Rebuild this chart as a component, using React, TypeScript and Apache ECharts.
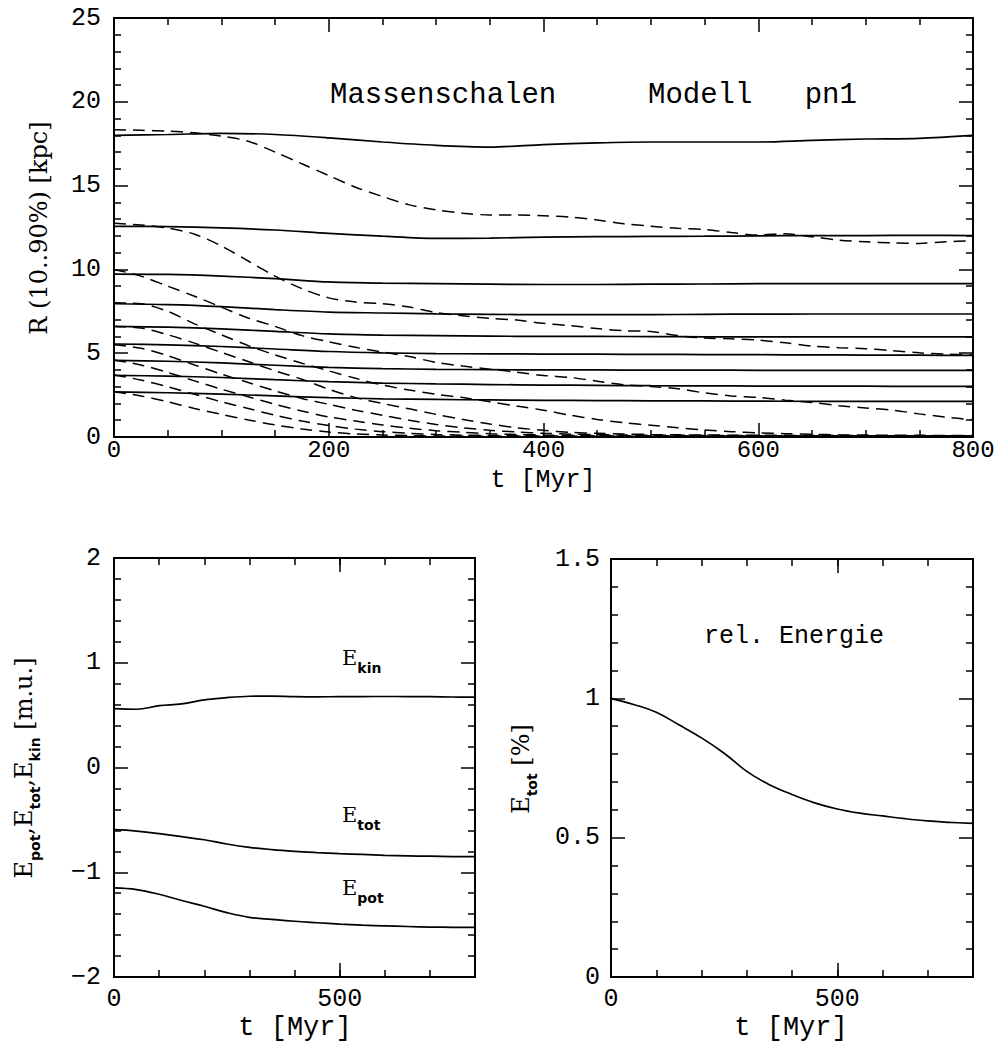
import React, { useEffect, useRef } from "react";
import * as echarts from "echarts";

// ---------- data ----------
const tSolid = [0, 50, 100, 150, 200, 250, 300, 350, 400, 450, 500, 550, 600, 650, 700, 750, 800];
const tDashed = [0, 25, 50, 75, 100, 125, 150, 175, 200, 225, 250, 275, 300, 325, 350, 375, 400, 425, 450, 475, 500, 525, 550, 575, 600, 625, 650, 675, 700, 725, 750, 775, 800];

// solid shells (10% .. 90% mass radii)
const solid90 = [18.0, 18.05, 18.12, 18.05, 17.85, 17.6, 17.4, 17.3, 17.45, 17.55, 17.6, 17.6, 17.6, 17.7, 17.78, 17.82, 18.0];
const solid80 = [12.57, 12.55, 12.48, 12.35, 12.15, 11.98, 11.85, 11.87, 11.92, 11.95, 11.97, 11.98, 12.0, 12.02, 12.02, 12.03, 12.02];
const solid70 = [9.72, 9.7, 9.6, 9.45, 9.25, 9.18, 9.15, 9.12, 9.1, 9.1, 9.12, 9.13, 9.15, 9.15, 9.15, 9.15, 9.15];
const solid60 = [7.95, 7.9, 7.78, 7.6, 7.45, 7.4, 7.35, 7.32, 7.3, 7.3, 7.3, 7.32, 7.33, 7.34, 7.34, 7.34, 7.34];
const solid50 = [6.6, 6.55, 6.45, 6.3, 6.15, 6.08, 6.05, 6.02, 6.0, 6.0, 5.99, 5.98, 5.98, 5.97, 5.97, 5.97, 5.97];
const solid40 = [5.55, 5.5, 5.4, 5.25, 5.1, 5.02, 4.98, 4.96, 4.95, 4.94, 4.93, 4.92, 4.91, 4.9, 4.89, 4.88, 4.87];
const solid30 = [4.57, 4.52, 4.42, 4.28, 4.15, 4.08, 4.04, 4.02, 4.0, 4.0, 3.99, 3.99, 3.98, 3.98, 3.97, 3.97, 3.97];
const solid20 = [3.68, 3.63, 3.55, 3.42, 3.3, 3.22, 3.17, 3.13, 3.1, 3.08, 3.06, 3.05, 3.04, 3.03, 3.03, 3.02, 3.02];
const solid10 = [2.69, 2.64, 2.56, 2.45, 2.35, 2.28, 2.24, 2.21, 2.19, 2.17, 2.16, 2.15, 2.14, 2.13, 2.13, 2.12, 2.12];

// dashed shells
const dashed90 = [18.33, 18.3, 18.25, 18.15, 17.95, 17.65, 17.0, 16.3, 15.6, 14.9, 14.35, 13.85, 13.55, 13.35, 13.25, 13.25, 13.2, 13.12, 12.95, 12.72, 12.58, 12.45, 12.38, 12.2, 12.05, 12.13, 11.95, 11.75, 11.65, 11.58, 11.55, 11.65, 11.7];
const dashed80 = [12.75, 12.65, 12.47, 12.1, 11.4, 10.5, 9.6, 8.85, 8.3, 8.05, 7.95, 7.75, 7.42, 7.23, 7.08, 6.98, 6.78, 6.64, 6.47, 6.34, 6.3, 6.05, 5.9, 5.86, 5.78, 5.62, 5.42, 5.33, 5.27, 5.15, 5.02, 4.94, 4.9];
const dashed70 = [10.0, 9.6, 9.0, 8.4, 7.75, 7.1, 6.6, 6.05, 5.68, 5.35, 5.07, 4.8, 4.45, 4.23, 4.05, 3.87, 3.67, 3.55, 3.33, 3.12, 3.02, 2.88, 2.63, 2.45, 2.36, 2.2, 2.06, 1.87, 1.73, 1.6, 1.38, 1.18, 1.03];
const dashed60 = [8.0, 7.95, 7.5, 6.75, 6.1, 5.45, 4.9, 4.4, 3.95, 3.5, 3.1, 2.8, 2.55, 2.35, 2.1, 1.85, 1.6, 1.3, 1.05, 0.85, 0.7, 0.55, 0.42, 0.32, 0.25, 0.2, 0.16, 0.13, 0.12, 0.1, 0.1, 0.09, 0.09];
const dashed50 = [6.6, 6.5, 6.1, 5.6, 5.05, 4.5, 3.95, 3.45, 2.85, 2.35, 2.0, 1.68, 1.35, 1.05, 0.78, 0.55, 0.4, 0.28, 0.22, 0.18, 0.15, 0.13, 0.12, 0.11, 0.1, 0.1, 0.09, 0.09, 0.08, 0.08, 0.08, 0.08, 0.08];
const dashed40 = [5.5, 5.3, 4.85, 4.3, 3.75, 3.25, 2.75, 2.3, 1.95, 1.6, 1.3, 1.0, 0.75, 0.55, 0.4, 0.3, 0.22, 0.17, 0.14, 0.12, 0.1, 0.1, 0.09, 0.09, 0.08, 0.08, 0.08, 0.07, 0.07, 0.07, 0.07, 0.07, 0.07];
const dashed30 = [4.6, 4.3, 3.85, 3.35, 2.85, 2.4, 1.95, 1.55, 1.2, 0.95, 0.72, 0.52, 0.38, 0.28, 0.2, 0.15, 0.12, 0.1, 0.09, 0.08, 0.07, 0.07, 0.07, 0.06, 0.06, 0.06, 0.06, 0.06, 0.06, 0.06, 0.06, 0.06, 0.06];
const dashed20 = [3.7, 3.4, 3.0, 2.55, 2.1, 1.7, 1.3, 0.95, 0.68, 0.47, 0.32, 0.22, 0.15, 0.11, 0.09, 0.08, 0.07, 0.06, 0.06, 0.05, 0.05, 0.05, 0.05, 0.05, 0.05, 0.05, 0.05, 0.05, 0.05, 0.05, 0.05, 0.05, 0.05];
const dashed10 = [2.7, 2.45, 2.1, 1.7, 1.35, 1.02, 0.72, 0.48, 0.3, 0.18, 0.12, 0.08, 0.06, 0.05, 0.05, 0.04, 0.04, 0.04, 0.04, 0.04, 0.04, 0.04, 0.04, 0.04, 0.04, 0.04, 0.04, 0.04, 0.04, 0.04, 0.04, 0.04, 0.04];

// energies
const tEnergy = [0, 50, 100, 150, 200, 250, 300, 350, 400, 450, 500, 550, 600, 650, 700, 750, 800];
const eKin = [0.562, 0.556, 0.59, 0.607, 0.645, 0.667, 0.68, 0.682, 0.677, 0.675, 0.676, 0.677, 0.678, 0.677, 0.676, 0.673, 0.672];
const eTot = [-0.594, -0.607, -0.632, -0.66, -0.69, -0.73, -0.762, -0.784, -0.8, -0.812, -0.822, -0.83, -0.838, -0.843, -0.847, -0.85, -0.851];
const ePot = [-1.149, -1.165, -1.21, -1.27, -1.325, -1.385, -1.43, -1.45, -1.468, -1.482, -1.495, -1.505, -1.512, -1.518, -1.523, -1.526, -1.527];
const eRel = [1.0, 0.978, 0.95, 0.905, 0.858, 0.803, 0.738, 0.69, 0.655, 0.625, 0.603, 0.588, 0.578, 0.568, 0.56, 0.555, 0.551];

const solidShells = [solid90, solid80, solid70, solid60, solid50, solid40, solid30, solid20, solid10];
const dashedShells = [dashed90, dashed80, dashed70, dashed60, dashed50, dashed40, dashed30, dashed20, dashed10];

// ---------- style ----------
const MONO = "'Liberation Mono', 'DejaVu Sans Mono', monospace";
const SERIF = "'DejaVu Serif', serif";
const SANS = "'DejaVu Sans', sans-serif";
const BLACK = "#000";

const fmtNum = (v: number) => (v < 0 ? "\u2212" + String(Math.abs(v)) : String(v));

function axisBase(opts: any) {
  const {
    gridIndex, position, min, max, interval, tickLen, minorSplit, labels, labelMargin,
    formatter, showLine = true, show = true, labelSize = 25,
  } = opts;
  return {
    type: "value",
    show,
    gridIndex,
    position,
    min,
    max,
    interval,
    axisLine: { show: showLine, onZero: false, lineStyle: { color: BLACK, width: 2 } },
    axisTick: { show: true, inside: true, length: tickLen, lineStyle: { color: BLACK, width: 1.5 } },
    minorTick: minorSplit
      ? { show: true, splitNumber: minorSplit, length: 7, lineStyle: { color: BLACK, width: 1.5 } }
      : { show: false },
    splitLine: { show: false },
    minorSplitLine: { show: false },
    axisLabel: labels
      ? {
          show: true,
          color: BLACK,
          fontFamily: MONO,
          fontSize: labelSize,
          margin: labelMargin,
          formatter: formatter || fmtNum,
        }
      : { show: false },
  };
}

export default function App() {
  const ref = useRef<HTMLDivElement>(null);

  useEffect(() => {
    if (!ref.current) return;
    const chart = echarts.init(ref.current, null, { renderer: "svg" });

    const pair = (t: number[], v: number[]) => t.map((x, i) => [x, v[i]]);

    const series: any[] = [];
    solidShells.forEach((arr, i) => {
      series.push({
        name: "solid" + (90 - i * 10),
        type: "line",
        xAxisIndex: 0,
        yAxisIndex: 0,
        data: pair(tSolid, arr),
        showSymbol: false,
        symbol: "none",
        smooth: 0.3,
        lineStyle: { color: BLACK, width: 1.7, type: "solid" },
      });
    });
    dashedShells.forEach((arr, i) => {
      series.push({
        name: "dashed" + (90 - i * 10),
        type: "line",
        xAxisIndex: 0,
        yAxisIndex: 0,
        data: pair(tDashed, arr),
        showSymbol: false,
        symbol: "none",
        smooth: 0.3,
        lineStyle: { color: BLACK, width: 1.5, type: [12, 7] },
      });
    });
    [eKin, eTot, ePot].forEach((arr, i) => {
      series.push({
        name: ["Ekin", "Etot", "Epot"][i],
        type: "line",
        xAxisIndex: 2,
        yAxisIndex: 2,
        data: pair(tEnergy, arr),
        symbol: "none",
        smooth: 0.4,
        lineStyle: { color: BLACK, width: 1.7 },
      });
    });
    series.push({
      name: "rel",
      type: "line",
      xAxisIndex: 6,
      yAxisIndex: 5,
      data: pair(tEnergy, eRel),
      symbol: "none",
      smooth: 0.4,
      lineStyle: { color: BLACK, width: 1.7 },
    });

    const only0and500 = (v: number) => (v === 0 || v === 500 ? String(v) : "");

    const richMain = (size: number) => ({ fontFamily: SERIF, fontSize: size, color: BLACK });
    const richSub = (size: number, pad: number) => ({
      fontFamily: SANS,
      fontWeight: "bold",
      fontSize: size,
      color: BLACK,
      padding: [pad, 0, 0, 0],
    });

    const option: any = {
      animation: false,
      backgroundColor: "#fff",
      grid: [
        { left: 114, top: 18, width: 859, height: 419, containLabel: false, outerBoundsMode: "none" },
        { left: 114, top: 558, width: 361, height: 419, containLabel: false, outerBoundsMode: "none" },
        { left: 114, top: 558, width: 361, height: 419, containLabel: false, outerBoundsMode: "none" },
        { left: 611, top: 559, width: 362, height: 418, containLabel: false, outerBoundsMode: "none" },
        { left: 611, top: 559, width: 362, height: 418, containLabel: false, outerBoundsMode: "none" },
      ],
      xAxis: [
        axisBase({ gridIndex: 0, position: "bottom", min: 0, max: 800, interval: 200, tickLen: 14, minorSplit: 4, labels: true, labelMargin: 1, labelSize: 24 }),
        axisBase({ gridIndex: 0, position: "top", min: 0, max: 800, interval: 200, tickLen: 14, minorSplit: 4, labels: false }),
        axisBase({ gridIndex: 1, position: "bottom", min: 0, max: 800, interval: 100, tickLen: 7, labels: true, labelMargin: 10, formatter: only0and500 }),
        axisBase({ gridIndex: 1, position: "top", min: 0, max: 800, interval: 100, tickLen: 7, labels: false }),
        axisBase({ gridIndex: 2, position: "bottom", min: 0, max: 800, interval: 500, tickLen: 14, labels: false, showLine: false }),
        axisBase({ gridIndex: 2, position: "top", min: 0, max: 800, interval: 500, tickLen: 14, labels: false, showLine: false }),
        axisBase({ gridIndex: 3, position: "bottom", min: 0, max: 800, interval: 100, tickLen: 7, labels: true, labelMargin: 10, formatter: only0and500 }),
        axisBase({ gridIndex: 3, position: "top", min: 0, max: 800, interval: 100, tickLen: 7, labels: false }),
        axisBase({ gridIndex: 4, position: "bottom", min: 0, max: 800, interval: 500, tickLen: 14, labels: false, showLine: false }),
        axisBase({ gridIndex: 4, position: "top", min: 0, max: 800, interval: 500, tickLen: 14, labels: false, showLine: false }),
      ],
      yAxis: [
        axisBase({ gridIndex: 0, position: "left", min: 0, max: 25, interval: 5, tickLen: 14, minorSplit: 5, labels: true, labelMargin: 13 }),
        axisBase({ gridIndex: 0, position: "right", min: 0, max: 25, interval: 5, tickLen: 14, minorSplit: 5, labels: false }),
        axisBase({ gridIndex: 1, position: "left", min: -2, max: 2, interval: 1, tickLen: 14, minorSplit: 5, labels: true, labelMargin: 13 }),
        axisBase({ gridIndex: 1, position: "right", min: -2, max: 2, interval: 1, tickLen: 14, minorSplit: 5, labels: false }),
        axisBase({ gridIndex: 2, position: "left", min: -2, max: 2, interval: 1, tickLen: 14, labels: false, show: false }),
        axisBase({ gridIndex: 3, position: "left", min: 0, max: 1.5, interval: 0.5, tickLen: 14, minorSplit: 5, labels: true, labelMargin: 11 }),
        axisBase({ gridIndex: 3, position: "right", min: 0, max: 1.5, interval: 0.5, tickLen: 14, minorSplit: 5, labels: false }),
        axisBase({ gridIndex: 4, position: "left", min: 0, max: 1.5, interval: 0.5, tickLen: 14, labels: false, show: false }),
      ],
      graphic: [
        { type: "text", x: 330, y: 95, style: { text: "Massenschalen", fontFamily: MONO, fontSize: 29, fill: BLACK, align: "left", verticalAlign: "middle" } },
        { type: "text", x: 648, y: 95, style: { text: "Modell   pn1", fontFamily: MONO, fontSize: 29, fill: BLACK, align: "left", verticalAlign: "middle" } },
        { type: "text", x: 543, y: 480, style: { text: "t [Myr]", fontFamily: MONO, fontSize: 25, fill: BLACK, align: "center", verticalAlign: "middle" } },
        { type: "text", x: 295, y: 1028, style: { text: "t [Myr]", fontFamily: MONO, fontSize: 27, fill: BLACK, align: "center", verticalAlign: "middle" } },
        { type: "text", x: 791, y: 1028, style: { text: "t [Myr]", fontFamily: MONO, fontSize: 27, fill: BLACK, align: "center", verticalAlign: "middle" } },
        { type: "text", x: 794, y: 636, style: { text: "rel. Energie", fontFamily: MONO, fontSize: 25, fill: BLACK, align: "center", verticalAlign: "middle" } },
        {
          type: "text", x: 39, y: 228, rotation: Math.PI / 2,
          style: { text: "R (10..90%) [kpc]", fontFamily: SERIF, fontSize: 24, fill: BLACK, align: "center", verticalAlign: "middle" },
        },
        {
          type: "text", x: 24, y: 768, rotation: Math.PI / 2,
          style: {
            text: "{m|E}{s|pot}{m|,E}{s|tot}{m|,E}{s|kin}{m| [m.u.]}",
            align: "center", verticalAlign: "middle",
            rich: { m: richMain(24), s: richSub(14, 22) },
          },
        },
        {
          type: "text", x: 521, y: 769, rotation: Math.PI / 2,
          style: {
            text: "{m|E}{s|tot}{m| [%]}",
            align: "center", verticalAlign: "middle",
            rich: { m: richMain(24), s: richSub(14, 22) },
          },
        },
        {
          type: "text", x: 342, y: 658,
          style: { text: "{m|E}{s|kin}", align: "left", verticalAlign: "middle", rich: { m: richMain(21), s: richSub(14, 20) } },
        },
        {
          type: "text", x: 342, y: 815,
          style: { text: "{m|E}{s|tot}", align: "left", verticalAlign: "middle", rich: { m: richMain(21), s: richSub(14, 20) } },
        },
        {
          type: "text", x: 342, y: 888,
          style: { text: "{m|E}{s|pot}", align: "left", verticalAlign: "middle", rich: { m: richMain(21), s: richSub(14, 20) } },
        },
      ],
      series,
    };

    chart.setOption(option);
    return () => chart.dispose();
  }, []);

  return (
    <div
      ref={ref}
      style={{ position: "fixed", left: 0, top: 0, width: 1004, height: 1053, background: "#fff" }}
    />
  );
}
